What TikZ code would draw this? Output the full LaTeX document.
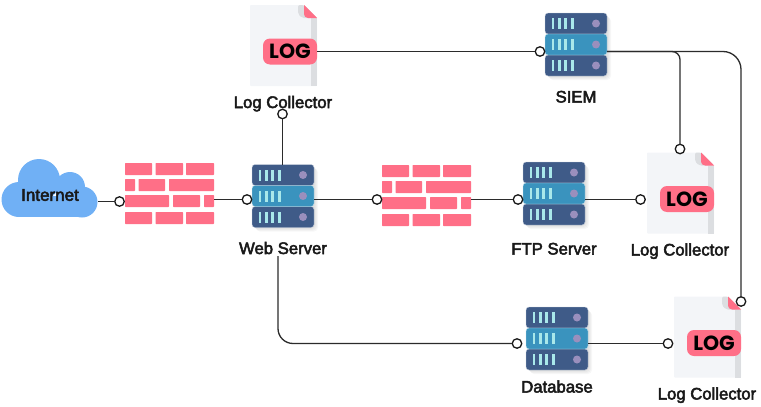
\documentclass[tikz,border=0pt]{standalone}
\usepackage{fontspec}
\setmainfont{Liberation Sans}
\newfontfamily\tagfont{Poppins}
\newfontfamily\labelfont{Liberation Sans}[FakeBold=3]
\definecolor{BrickPink}{HTML}{FF6F87}
\definecolor{RackDark}{HTML}{3F5B88}
\definecolor{RackMid}{HTML}{3A93BE}
\definecolor{RackBar}{HTML}{A9E8EA}
\definecolor{RackDot}{HTML}{9A8FBD}
\definecolor{CloudBlue}{HTML}{70B0F5}
\definecolor{PaperFill}{HTML}{F3F5F8}
\definecolor{PaperFold}{HTML}{DCDEE1}
\definecolor{WireGray}{HTML}{2B2B2B}
\tikzset{
  box/.style={minimum width=#1,inner sep=0pt,outer sep=0pt},
  port/.style={circle,draw=black!90,fill=white,line width=1.3pt,minimum size=9.5pt,inner sep=0pt,outer sep=0pt},
  wire/.style={draw=WireGray,line width=1.3pt},
  caption/.style={font=\labelfont\fontsize{16.7}{18}\selectfont,text=black!90,inner sep=0pt,anchor=base},
}
\newcommand{\rackunit}[2]{%
  \fill[#2,draw=white!70!#2,line width=.4pt,rounded corners=3pt] (0,#1) rectangle (62,#1+21);
  \foreach \b in {6.5,13,19.4,25.8} {
    \fill[RackBar] (\b,#1+5) rectangle (\b+2.8,#1+16);
  }
  \fill[RackDot] (51,#1+10.5) circle (4);
}
\newcommand{\serverrack}[3]{%
  \node[box=62pt,minimum height=63pt] (#1) at (#2,#3) {};
  \begin{scope}[shift={(#2-31,#3-31.5)}]
    \foreach \s in {1,2,3,4} {
      \fill[black,opacity=.03,rounded corners=4pt] (\s,\s) rectangle (62+\s,63+\s);
    }
    \rackunit{0}{RackDark}
    \rackunit{42}{RackDark}
    \rackunit{21}{RackMid}
  \end{scope}
}
\newcommand{\brickwall}[3]{%
  \node[box=89pt,minimum height=61pt] (#1) at (#2,#3) {};
  \begin{scope}[shift={(#2-44.5,#3-30.5)}]
    \foreach \xa/\xb/\ya in {0/27/0,30.5/58/0,61/89/0,0/10/16,13.5/40/16,44/89/16,0/44/32,48/75/32,79/89/32,0/27/49,30.5/58/49,61/89/49} {
      \fill[BrickPink,rounded corners=.6pt] (\xa,\ya) rectangle (\xb,\ya+12);
    }
  \end{scope}
}
\newcommand{\logpage}[3]{%
  \node[box=67pt,minimum height=81pt] (#1) at (#2,#3) {};
  \begin{scope}[shift={(#2-33.5,#3-40.5)}]
    \fill[PaperFill,rounded corners=.8pt] (0,0) -- (54,0) -- (67,13) -- (67,81) -- (0,81) -- cycle;
    \fill[PaperFold] (61,13) rectangle (67,81);
    \fill[PaperFold,rounded corners=2pt] (48,0) -- (54,0) -- (67,13) -- (52,13) -- (48,9) -- cycle;
    \fill[BrickPink] (54,0) -- (67,13) -- (58,13) .. controls (55.5,13) and (54,11) .. (54,9) -- cycle;
    \node[fill=BrickPink,rounded corners=7pt,minimum width=54pt,minimum height=26pt,inner sep=0pt,
      font=\tagfont\bfseries\fontsize{20.5}{21}\selectfont,text=black] (#1tag) at (40,46.5) {LOG};
  \end{scope}
}
\begin{document}
\begin{tikzpicture}[x=1pt,y=-1pt]
  \useasboundingbox (0,0) rectangle (761,407);
  % cloud
  \fill[CloudBlue] (19,199.5) circle (17.5) (39,180) circle (21) (70,187) circle (15) (82,202) circle (15.5);
  \fill[CloudBlue] (19,196) rectangle (82,217);
  \node[box=96pt,font=\labelfont\fontsize{17}{18}\selectfont,text=black!90] (internet) at (50,195) {Internet};

  \brickwall{wallA}{169.5}{193.5}
  \brickwall{wallB}{426.5}{195.5}
  \serverrack{web}{283}{196}
  \serverrack{ftp}{554}{193.5}
  \serverrack{siem}{576}{44.5}
  \serverrack{db}{557}{338.5}
  \logpage{logA}{283.5}{45.5}
  \logpage{logB}{680.5}{193}
  \logpage{logC}{707.5}{337}

  \node[caption] (capLogA) at (283,108) {Log Collector};
  \node[caption] (capSiem) at (576,102.5) {SIEM};
  \node[caption] (capWeb) at (283,254) {Web Server};
  \node[caption] (capFtp) at (554,254.5) {FTP Server};
  \node[caption] (capLogB) at (680,255.5) {Log Collector};
  \node[caption] (capDb) at (557,392.5) {Database};
  \node[caption] (capLogC) at (707,399.5) {Log Collector};

  \foreach \name/\x/\y in {dotA/119.5/201.5,dotB/247/199.5,dotC/282.5/114,dotD/377/199.5,dotE/518/199.5,
    dotF/640.5/199.5,dotG/517/343.5,dotH/668/343.5,dotI/540/51.5,dotJ/680/149,dotK/741/301.5} {
    \node[port] (\name) at (\x,\y) {};
  }
  \coordinate (webDrop) at (278,256);

  \draw[wire] (internet.east |- dotA) -- (dotA);
  \draw[wire] (wallA.east |- dotB) -- (dotB);
  \draw[wire] (web.north -| dotC) -- (dotC);
  \draw[wire] (web.east |- dotD) -- (dotD);
  \draw[wire] (wallB.east |- dotE) -- (dotE);
  \draw[wire] (ftp.east |- dotF) -- (dotF);
  \draw[wire] (db.east |- dotH) -- (dotH);
  \draw[wire] (logA.east |- dotI) -- (dotI);
  \draw[wire,rounded corners=15pt] (webDrop) |- (dotG);
  \draw[wire,rounded corners=8pt] (siem.east |- dotI) -| (dotJ);
  \draw[wire,rounded corners=18pt] (siem.east |- dotI) -| (dotK);
\end{tikzpicture}
\end{document}
